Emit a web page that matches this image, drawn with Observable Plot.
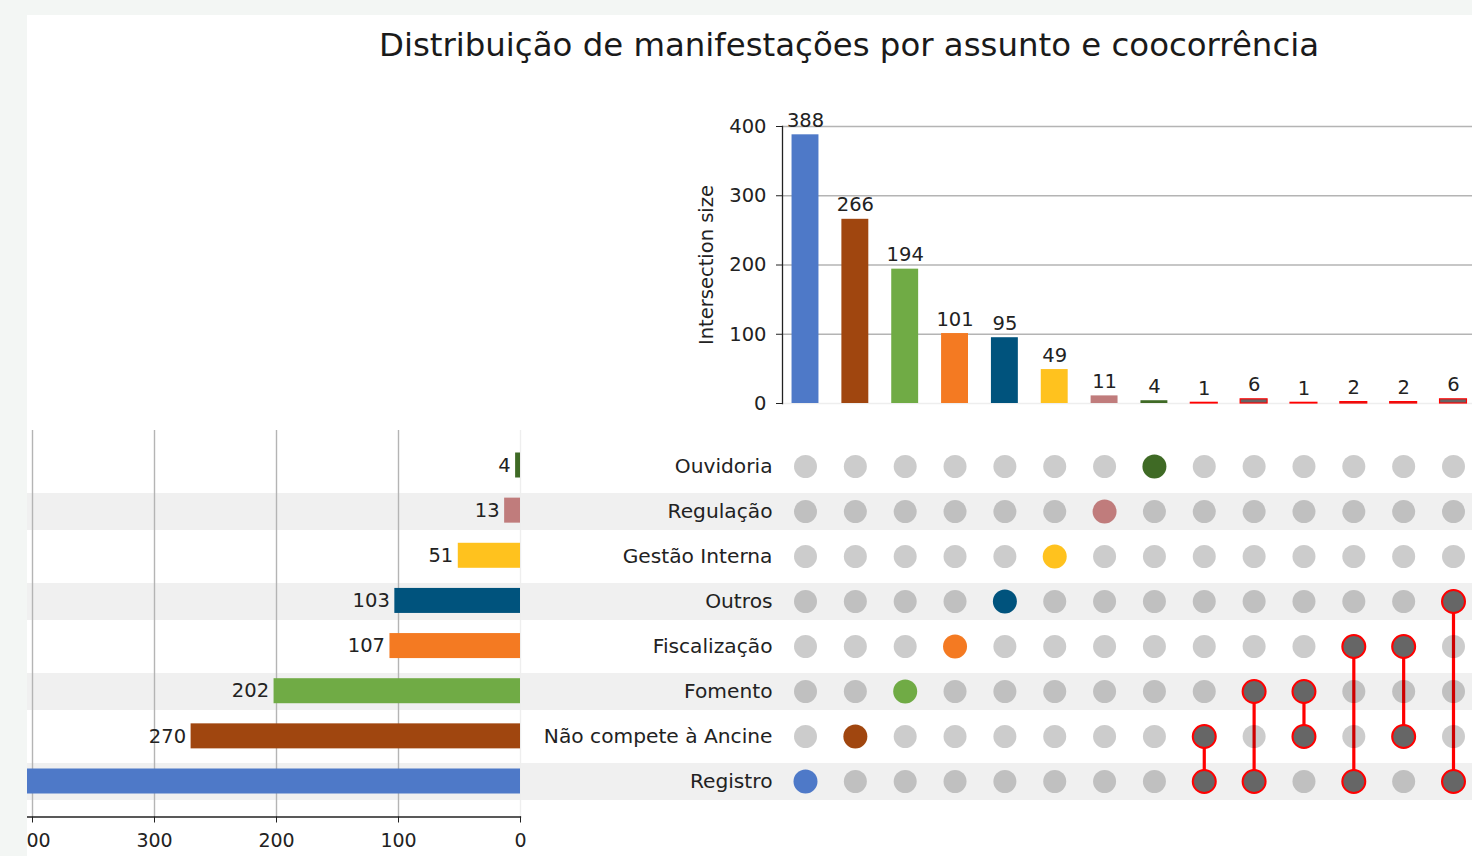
<!DOCTYPE html>
<html><head><meta charset="utf-8">
<script src="https://cdn.jsdelivr.net/npm/d3@7"></script>
<script src="https://cdn.jsdelivr.net/npm/@observablehq/plot@0.6"></script>
<style>
html,body{margin:0;padding:0;background:#f3f6f4;width:1472px;height:856px;overflow:hidden;font-family:"DejaVu Sans",sans-serif;}
#panel{position:absolute;left:27px;top:15px;width:1445px;height:841px;background:#fff;overflow:hidden;}
#title{position:absolute;left:322px;width:1000px;top:14px;text-align:center;font-size:32.4px;line-height:32px;color:#1a1a1a;white-space:nowrap;}
#panel svg{position:absolute;left:-27px;top:-15px;}
</style>
</head><body>
<div id="panel"><div id="title">Distribuição de manifestações por assunto e coocorrência</div></div>
<script>
// ---- data ----
const rows = ["Ouvidoria","Regulação","Gestão Interna","Outros","Fiscalização","Fomento","Não compete à Ancine","Registro"];
const rowColors = ["#3f6a25","#c07c7c","#ffc21e","#00537d","#f47a22","#70ab45","#a0460f","#4e79c8"];
const rowTotals = [4,13,51,103,107,202,270,410];
const shadedRows = ["Regulação","Outros","Fomento","Registro"];
const interSets = [
  ["Registro"],["Não compete à Ancine"],["Fomento"],["Fiscalização"],["Outros"],
  ["Gestão Interna"],["Regulação"],["Ouvidoria"],
  ["Não compete à Ancine","Registro"],["Fomento","Registro"],["Fomento","Não compete à Ancine"],
  ["Fiscalização","Registro"],["Fiscalização","Não compete à Ancine"],["Outros","Registro"]
];
const interSizes = [388,266,194,101,95,49,11,4,1,6,1,2,2,6];
const yTicksTop = [0,100,200,300,400];
const xTicksLeft = [0,100,200,300,400];
const yLabelTop = "Intersection size";

// ---- derived tables ----
const colorOf = new Map(rows.map((r,i)=>[r,rowColors[i]]));
const rowData = rows.map((r,i)=>({name:r,total:rowTotals[i],color:rowColors[i]}));
const inter = interSets.map((sets,i)=>({id:"c"+i,sets,size:interSizes[i],multi:sets.length>1,color:sets.length>1?"#666666":colorOf.get(sets[0])}));
const cols = inter.map(d=>d.id);
const cells = inter.flatMap(d=>rows.map(r=>({id:d.id,row:r,active:d.sets.includes(r),multi:d.multi,color:d.color})));
const links = inter.filter(d=>d.multi).map(d=>{
  const idx=d.sets.map(s=>rows.indexOf(s));
  return {id:d.id,top:rows[Math.min(...idx)],bottom:rows[Math.max(...idx)]};
});

// ---- layout ----
const W = 1480, H = 856;
const textColor = "#222";
const baseStyle = {background:"transparent",maxWidth:"none",fontFamily:"DejaVu Sans",fontSize:"19.5px",color:textColor};
const xBand = {type:"band",domain:cols,paddingInner:0.46,paddingOuter:0.1914,round:false,axis:null};
const colLeft = 782, colRight = 4;
const rowTop = 465, rowBottom = 781, rowStep = (rowBottom-rowTop)/(rows.length-1);

const panel = document.getElementById("panel");
function add(svg){panel.appendChild(svg);}

// shading stripes
add(Plot.plot({
  width:W,height:H,marginLeft:0,marginRight:0,marginTop:rowTop,marginBottom:H-rowBottom,
  style:baseStyle,
  y:{type:"point",domain:rows,padding:0,axis:null},
  marks:[Plot.ruleY(shadedRows,{y:d=>d,stroke:"#f0f0f0",strokeWidth:37})]
}));

// left totals bar chart
add(Plot.plot({
  width:W,height:H,marginLeft:7.6,marginRight:960,marginTop:430,marginBottom:H-816.5,
  style:baseStyle,
  x:{domain:[0,420],reverse:true},
  y:{type:"band",domain:rows,range:[rowTop-rowStep/2,rowBottom+rowStep/2],paddingInner:0.446,paddingOuter:0.223,round:false,axis:null},
  marks:[
    Plot.gridX(xTicksLeft.filter(v=>v>0),{stroke:"#b4b4b4",strokeOpacity:1,strokeWidth:1.4}),
    Plot.ruleX([0],{stroke:"#eeeeee",strokeWidth:1.4}),
    Plot.barX(rowData,{y:"name",x:"total",fill:"color"}),
    Plot.text(rowData,{y:"name",x:"total",text:d=>String(d.total),textAnchor:"end",dx:-5,fontSize:19.5,fill:textColor}),
    Plot.frame({anchor:"bottom",stroke:"#222",strokeWidth:1.3}),
    Plot.axisX(xTicksLeft,{anchor:"bottom",tickSize:6,tickPadding:10,label:null,fontSize:19,stroke:"#222",fill:textColor})
  ]
}));

// matrix
add(Plot.plot({
  width:W,height:H,marginLeft:colLeft,marginRight:colRight,marginTop:rowTop,marginBottom:H-rowBottom,
  style:baseStyle,
  x:xBand,
  y:{type:"point",domain:rows,padding:0,axis:null},
  marks:[
    Plot.ruleX(links,{x:"id",y1:"top",y2:"bottom",stroke:"#ff0000",strokeWidth:3.2}),
    Plot.dot(cells.filter(d=>!d.active),{x:"id",y:"row",r:11.5,fill:"#000",fillOpacity:0.2}),
    Plot.dot(cells.filter(d=>d.active&&!d.multi),{x:"id",y:"row",r:12,fill:"color"}),
    Plot.dot(cells.filter(d=>d.active&&d.multi),{x:"id",y:"row",r:11.5,fill:"#666666",stroke:"#ff0000",strokeWidth:2}),
    Plot.text(rows,{y:d=>d,text:d=>d,frameAnchor:"left",textAnchor:"end",dx:-10,fontSize:20.2,fill:textColor})
  ]
}));

// top intersection bars
add(Plot.plot({
  width:W,height:430,marginLeft:colLeft,marginRight:colRight,marginTop:126,marginBottom:27,
  style:baseStyle,
  x:xBand,
  y:{domain:[0,400],axis:null},
  marks:[
    Plot.gridY(yTicksTop.filter(v=>v>0),{stroke:"#b4b4b4",strokeOpacity:1,strokeWidth:1.4}),
    Plot.ruleY([0],{stroke:"#eeeeee",strokeWidth:1.4}),
    Plot.barY(inter.filter(d=>!d.multi),{x:"id",y:"size",fill:"color"}),
    Plot.barY(inter.filter(d=>d.multi),{x:"id",y:"size",fill:"#666666",stroke:"#ff0000",strokeWidth:1.2}),
    Plot.text(inter,{x:"id",y:"size",text:d=>String(d.size),lineAnchor:"bottom",dy:-8,fontSize:19.5,fill:textColor}),
    Plot.frame({anchor:"left",stroke:"#222",strokeWidth:1.3}),
    Plot.axisY(yTicksTop,{tickSize:6,tickPadding:10,label:null,fontSize:19.5,stroke:"#222",fill:textColor}),
    Plot.text([yLabelTop],{text:d=>d,frameAnchor:"left",textAnchor:"middle",dx:-76,rotate:-90,fontSize:19.5,fill:textColor})
  ]
}));
</script>
</body></html>
